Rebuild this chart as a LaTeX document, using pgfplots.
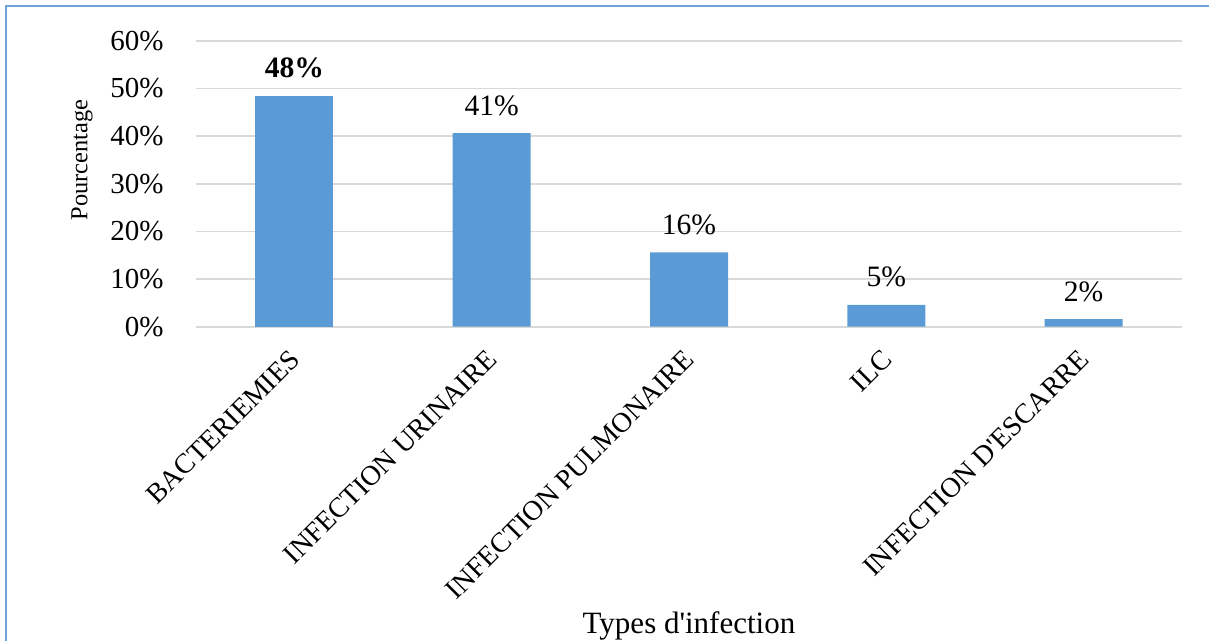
\documentclass[border=0pt]{standalone}
\usepackage{fontspec}
\setmainfont{Liberation Serif}
\usepackage{pgfplots}
\pgfplotsset{compat=1.18}

\definecolor{barblue}{HTML}{5B9BD5}
\definecolor{gridgray}{HTML}{D9D9D9}
\definecolor{frameblue}{HTML}{6FA3DA}

\begin{document}
\begin{tikzpicture}
\begin{axis}[
  at={(0,0)}, anchor=south west,
  scale only axis,
  width=493.3pt, height=143pt,
  xmin=-0.5, xmax=4.5,
  ymin=0, ymax=60,
  /pgf/number format/assume math mode=true,
  xtick={0,1,2,3,4},
  xticklabels={BACTERIEMIES,INFECTION URINAIRE,INFECTION PULMONAIRE,ILC,INFECTION D\textquotesingle ESCARRE},
  ytick={0,10,...,60},
  yticklabel={\pgfmathprintnumber{\tick}\%},
  major tick length=0pt,
  axis x line*=bottom,
  axis y line*=left,
  x axis line style={draw=gridgray, line width=0.9pt, -},
  y axis line style={draw=none},
  ymajorgrids,
  grid style={draw=gridgray, line width=0.85pt},
  xticklabel style={xshift=-3pt, yshift=-10.5pt, rotate=45, anchor=north east, inner sep=0pt,
    font=\fontsize{14}{16}\selectfont},
  yticklabel style={anchor=east, inner sep=0pt, xshift=-15.9pt,
    font=\fontsize{14.5}{17}\selectfont},
  xlabel={Types d\textquotesingle infection},
  xlabel style={at={(rel axis cs:0.5,0)}, anchor=base, yshift=-153.6pt,
    font=\fontsize{15.5}{18}\selectfont},
  ylabel={Pourcentage},
  ylabel style={at={(axis description cs:-0.1152,0.583)}, anchor=center,
    font=\fontsize{12.2}{14}\selectfont},
  clip=false,
]
% leading category, labelled in bold
\addplot[ybar, bar width=39pt, bar shift=0pt, fill=barblue, draw=none,
  nodes near coords={\pgfmathprintnumber[fixed,precision=0,assume math mode=true]{\pgfplotspointmeta}\%},
  every node near coord/.append style={anchor=base, yshift=9.5pt, inner sep=0pt,
    font=\bfseries\fontsize{14.8}{17}\selectfont}]
  coordinates {(0,48.3)};
% remaining categories
\addplot[ybar, bar width=39pt, bar shift=0pt, fill=barblue, draw=none,
  nodes near coords={\pgfmathprintnumber[fixed,precision=0,assume math mode=true]{\pgfplotspointmeta}\%},
  every node near coord/.append style={anchor=base, yshift=9pt, inner sep=0pt,
    font=\fontsize{14.8}{17}\selectfont}]
  coordinates {(1,40.6) (2,15.6) (3,4.6) (4,1.6)};
\end{axis}
\pgfresetboundingbox
\useasboundingbox (-97.85pt,-157.15pt) rectangle (506.65pt,163.35pt);
\draw[frameblue, line width=1pt] (-95pt,-160pt) -- (-95pt,160.5pt) -- (510pt,160.5pt);
\end{tikzpicture}
\end{document}
